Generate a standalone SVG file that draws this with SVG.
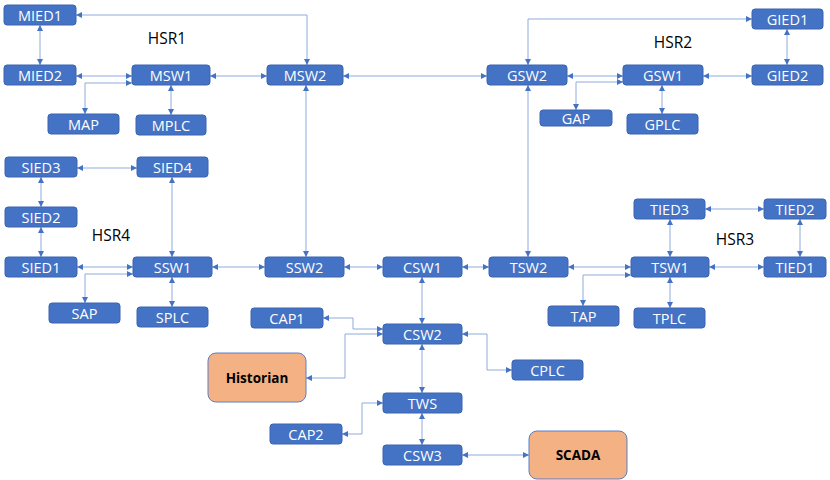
<svg xmlns="http://www.w3.org/2000/svg" width="830" height="480" viewBox="0 0 830 480">
<style>
.n rect{fill:#4472C4;stroke:#3A64B0;stroke-width:1}
.n text{fill:#fff;font-family:"Open Sans","Liberation Sans",sans-serif;font-size:14.5px;text-anchor:middle;dominant-baseline:central}
.o rect{fill:#F4B183;stroke:#5B7FC4;stroke-width:1}
.o text{fill:#000;font-family:"Open Sans","Liberation Sans",sans-serif;font-size:13.5px;font-weight:bold;text-anchor:middle;dominant-baseline:central}
.lbl{fill:#000;font-family:"Open Sans","Liberation Sans",sans-serif;font-size:15.5px;text-anchor:middle;dominant-baseline:central}
#connectors path{fill:none;stroke:#8FAADC;stroke-width:1;marker-start:url(#ah);marker-end:url(#ah)}
</style>
<defs>
<marker id="ah" viewBox="0 0 6 6" refX="6" refY="3" markerWidth="6" markerHeight="6" markerUnits="userSpaceOnUse" orient="auto-start-reverse">
<path d="M0,0 L6,3 L0,6 z" fill="#4472C4"/>
</marker>
</defs>
<rect width="830" height="480" fill="#fff"/>
<g id="connectors">
<path d="M76,15 H307 V65"/>
<path d="M40,25 V65"/>
<path d="M76,76 H132"/>
<path d="M85,114 V83 H132"/>
<path d="M171,115 V85"/>
<path d="M210,76 H267"/>
<path d="M343,76 H487"/>
<path d="M306,85 V257"/>
<path d="M528,65 V19 H752"/>
<path d="M787,29 V65"/>
<path d="M567,76 H623"/>
<path d="M576,110 V82 H623"/>
<path d="M662,85 V114"/>
<path d="M703,76 H752"/>
<path d="M528,85 V257"/>
<path d="M77,168 H137"/>
<path d="M41,177 V207"/>
<path d="M41,227 V257"/>
<path d="M172,177 V257"/>
<path d="M77,267 H133"/>
<path d="M85,303 V274 H133"/>
<path d="M172,277 V307"/>
<path d="M212,267 H265"/>
<path d="M344,267 H383"/>
<path d="M462,267 H489"/>
<path d="M568,267 H631"/>
<path d="M583,306 V275 H631"/>
<path d="M670,257 V219"/>
<path d="M670,277 V308"/>
<path d="M705,209 H764"/>
<path d="M800,219 V257"/>
<path d="M709,267 H764"/>
<path d="M422,277 V324"/>
<path d="M323,318 H353 V329 H383"/>
<path d="M306,378 H345 V334 H383"/>
<path d="M462,334 H487 V370 H512"/>
<path d="M422,344 V393"/>
<path d="M383,403 H362 V434 H342"/>
<path d="M422,413 V445"/>
<path d="M462,455 H529"/>
</g>
<text class="lbl" x="167" y="38">HSR1</text>
<text class="lbl" x="673" y="42">HSR2</text>
<text class="lbl" x="735" y="239">HSR3</text>
<text class="lbl" x="111" y="235">HSR4</text>
<g id="MIED1" class="n"><rect x="4" y="5" width="72" height="20" rx="3"/><text x="40" y="15">MIED1</text></g>
<g id="MIED2" class="n"><rect x="4" y="65" width="72" height="20" rx="3"/><text x="40" y="75">MIED2</text></g>
<g id="MSW1" class="n"><rect x="132" y="65" width="78" height="20" rx="3"/><text x="171" y="75">MSW1</text></g>
<g id="MSW2" class="n"><rect x="267" y="65" width="76" height="20" rx="3"/><text x="305" y="75">MSW2</text></g>
<g id="MAP" class="n"><rect x="48" y="114" width="71" height="20" rx="3"/><text x="83.5" y="124">MAP</text></g>
<g id="MPLC" class="n"><rect x="136" y="115" width="70" height="20" rx="3"/><text x="171" y="125">MPLC</text></g>
<g id="GIED1" class="n"><rect x="752" y="9" width="71" height="20" rx="3"/><text x="787.5" y="19">GIED1</text></g>
<g id="GIED2" class="n"><rect x="752" y="65" width="71" height="20" rx="3"/><text x="787.5" y="75">GIED2</text></g>
<g id="GSW1" class="n"><rect x="623" y="65" width="80" height="20" rx="3"/><text x="663" y="75">GSW1</text></g>
<g id="GSW2" class="n"><rect x="487" y="65" width="80" height="20" rx="3"/><text x="527" y="75">GSW2</text></g>
<g id="GAP" class="n"><rect x="540" y="110" width="72" height="16" rx="3"/><text x="576" y="118">GAP</text></g>
<g id="GPLC" class="n"><rect x="627" y="114" width="71" height="20" rx="3"/><text x="662.5" y="124">GPLC</text></g>
<g id="SIED3" class="n"><rect x="5" y="157" width="72" height="20" rx="3"/><text x="41" y="167">SIED3</text></g>
<g id="SIED4" class="n"><rect x="137" y="157" width="71" height="20" rx="3"/><text x="172.5" y="167">SIED4</text></g>
<g id="SIED2" class="n"><rect x="5" y="207" width="72" height="20" rx="3"/><text x="41" y="217">SIED2</text></g>
<g id="SIED1" class="n"><rect x="5" y="257" width="72" height="20" rx="3"/><text x="41" y="267">SIED1</text></g>
<g id="SSW1" class="n"><rect x="133" y="257" width="79" height="20" rx="3"/><text x="172.5" y="267">SSW1</text></g>
<g id="SSW2" class="n"><rect x="265" y="257" width="79" height="20" rx="3"/><text x="304.5" y="267">SSW2</text></g>
<g id="SAP" class="n"><rect x="49" y="303" width="71" height="20" rx="3"/><text x="84.5" y="313">SAP</text></g>
<g id="SPLC" class="n"><rect x="137" y="307" width="71" height="20" rx="3"/><text x="172.5" y="317">SPLC</text></g>
<g id="CSW1" class="n"><rect x="383" y="257" width="79" height="20" rx="3"/><text x="422.5" y="267">CSW1</text></g>
<g id="TSW2" class="n"><rect x="489" y="257" width="79" height="20" rx="3"/><text x="528.5" y="267">TSW2</text></g>
<g id="TSW1" class="n"><rect x="631" y="257" width="78" height="20" rx="3"/><text x="670" y="267">TSW1</text></g>
<g id="TIED1" class="n"><rect x="764" y="257" width="62" height="20" rx="3"/><text x="795" y="267">TIED1</text></g>
<g id="TIED2" class="n"><rect x="764" y="199" width="62" height="20" rx="3"/><text x="795" y="209">TIED2</text></g>
<g id="TIED3" class="n"><rect x="634" y="199" width="71" height="20" rx="3"/><text x="669.5" y="209">TIED3</text></g>
<g id="TAP" class="n"><rect x="548" y="306" width="71" height="20" rx="3"/><text x="583.5" y="316">TAP</text></g>
<g id="TPLC" class="n"><rect x="634" y="308" width="71" height="20" rx="3"/><text x="669.5" y="318">TPLC</text></g>
<g id="CAP1" class="n"><rect x="251" y="308" width="72" height="20" rx="3"/><text x="287" y="318">CAP1</text></g>
<g id="CSW2" class="n"><rect x="383" y="324" width="79" height="20" rx="3"/><text x="422.5" y="334">CSW2</text></g>
<g id="CPLC" class="n"><rect x="512" y="360" width="71" height="20" rx="3"/><text x="547.5" y="370">CPLC</text></g>
<g id="TWS" class="n"><rect x="383" y="393" width="79" height="20" rx="3"/><text x="422.5" y="403">TWS</text></g>
<g id="CAP2" class="n"><rect x="270" y="424" width="72" height="20" rx="3"/><text x="306" y="434">CAP2</text></g>
<g id="CSW3" class="n"><rect x="383" y="445" width="79" height="20" rx="3"/><text x="422.5" y="455">CSW3</text></g>
<g id="Historian" class="o"><rect x="208" y="353" width="98" height="49" rx="8"/><text x="257" y="378">Historian</text></g>
<g id="SCADA" class="o"><rect x="529" y="431" width="98" height="48" rx="8"/><text x="578" y="455">SCADA</text></g>
</svg>
